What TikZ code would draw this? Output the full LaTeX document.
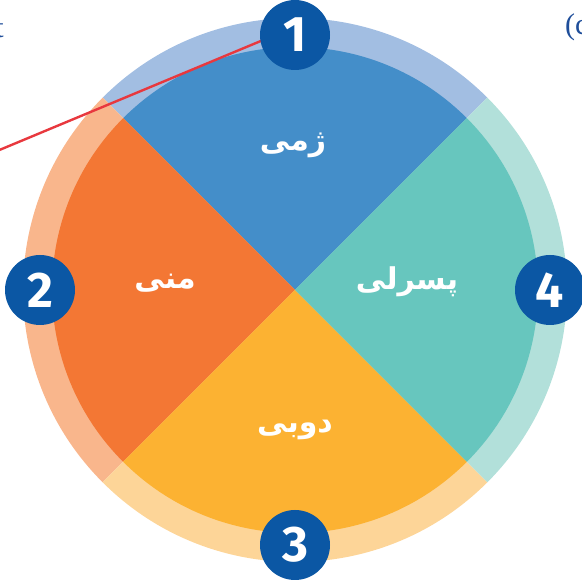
\documentclass[tikz,border=0pt]{standalone}
\usepackage{fontspec}
\usetikzlibrary{calc}
\TeXXeTstate=1
\setmainfont{Liberation Serif}
\newfontfamily\arabicfont[Script=Arabic]{DejaVu Sans}
\newfontfamily\numfont{Fira Sans}
\definecolor{lblue}{HTML}{A2BEE2}
\definecolor{mblue}{HTML}{448EC9}
\definecolor{lorange}{HTML}{F9B68C}
\definecolor{morange}{HTML}{F37734}
\definecolor{lyellow}{HTML}{FDD598}
\definecolor{myellow}{HTML}{FCB232}
\definecolor{lteal}{HTML}{B2E0DA}
\definecolor{mteal}{HTML}{67C6BE}
\definecolor{badgeblue}{HTML}{0B57A4}
\definecolor{redline}{HTML}{E8383E}
\definecolor{labelblue}{HTML}{1F4E9A}
\tikzset{
  badge/.style={circle, fill=badgeblue, minimum size=70pt, inner sep=0pt,
    text=white, font=\numfont\bfseries\fontsize{50}{50}\selectfont},
  season/.style={text=white, inner sep=0pt,
    font=\arabicfont\bfseries\fontsize{30}{34}\selectfont},
  redconn/.style={draw=redline, line width=2.4pt},
  cutlabel/.style={text=labelblue, inner sep=0pt, font=\fontsize{30}{34}\selectfont}
}
\begin{document}
\begin{tikzpicture}[x=1pt,y=1pt]
\useasboundingbox (0,0) rectangle (582,580);
\coordinate (C) at (295,290);
% outer light ring sectors
\foreach \a/\lc in {45/lblue,135/lorange,225/lyellow,315/lteal}{
  \fill[\lc] (C) -- ++(\a:272) arc[start angle=\a, end angle=\a+90, radius=272] -- cycle;
}
% inner sectors
\foreach \a/\dc in {45/mblue,135/morange,225/myellow,315/mteal}{
  \fill[\dc] (C) -- ++(\a:243) arc[start angle=\a, end angle=\a+90, radius=243] -- cycle;
}
% season labels
\node[season] (winter) at (293,435) {\beginR ژمی\endR};
\node[season] (autumn) at (165,297) {\beginR منی\endR};
\node[season] (spring) at (407,298) {\beginR پسرلی\endR};
\node[season] (summer) at (295,150) {\beginR دوبی\endR};
% red connector
\coordinate (r0) at (-2,429.4);
\coordinate (r1) at (262,539.5);
\draw[redconn] (r0) -- (r1);
% badges
\node[badge] (b1) at ($(C)+(90:255)$) {1};
\node[badge] (b2) at ($(C)+(180:255)$) {2};
\node[badge] (b3) at ($(C)+(270:255)$) {3};
\node[badge] (b4) at ($(C)+(0:255)$) {4};
% cut-off labels at the edges
\node[cutlabel, anchor=base west] (rlab) at (565,545) {(c};
\node[cutlabel, anchor=base east] (llab) at (4,542) {t};
\end{tikzpicture}
\end{document}
